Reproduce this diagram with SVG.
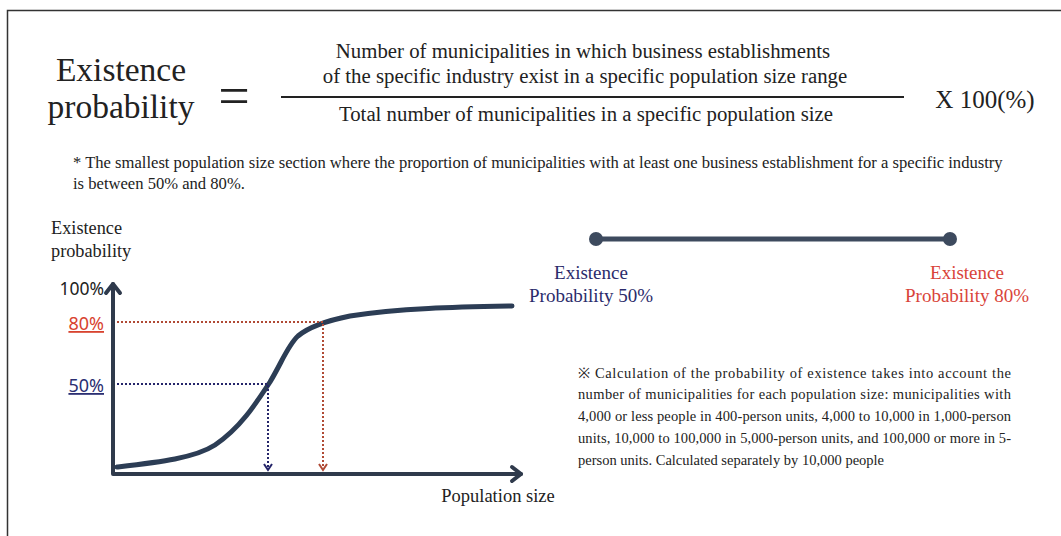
<svg xmlns="http://www.w3.org/2000/svg" width="1061" height="536" viewBox="0 0 1061 536">
  <style>
    .serif { font-family: "Liberation Serif", "Times New Roman", serif; fill: #222; }
    .sans { font-family: "Noto Sans", "Open Sans", sans-serif; }
    .axis { fill: none; stroke: #2f3a4c; stroke-width: 4; stroke-linecap: round; stroke-linejoin: round; }
    .dotRed { fill: none; stroke: #b04a35; stroke-width: 2; stroke-dasharray: 2 2; }
    .dotBlue { fill: none; stroke: #25256a; stroke-width: 2; stroke-dasharray: 2 2; }
    .headRed { fill: none; stroke: #b04a35; stroke-width: 2; }
    .headBlue { fill: none; stroke: #25256a; stroke-width: 2; }
  </style>

  <rect width="1061" height="536" fill="#ffffff"/>
  <!-- outer frame (right and bottom edges run off the canvas) -->
  <rect x="7.5" y="10.5" width="1100" height="600" fill="none" stroke="#333" stroke-width="1.5"/>

  <!-- formula -->
  <g id="formula">
    <text class="serif" x="121" y="81" font-size="33.5" text-anchor="middle">Existence</text>
    <text class="serif" x="121" y="118" font-size="33.5" text-anchor="middle">probability</text>
    <text class="serif" x="234" y="115" font-size="56" text-anchor="middle">=</text>
    <text class="serif" x="583" y="58" font-size="20.8" text-anchor="middle">Number of municipalities in which business establishments</text>
    <text class="serif" x="585" y="83" font-size="20.8" text-anchor="middle">of the specific industry exist in a specific population size range</text>
    <line x1="281" y1="97" x2="904" y2="97" stroke="#222" stroke-width="2"/>
    <text class="serif" x="586" y="121" font-size="20.8" text-anchor="middle">Total number of municipalities in a specific population size</text>
    <text class="serif" x="985" y="108" font-size="25" text-anchor="middle">X 100(%)</text>
  </g>

  <!-- footnote -->
  <g id="footnote">
    <text class="serif" x="73" y="168" font-size="16.6">* The smallest population size section where the proportion of municipalities with at least one business establishment for a specific industry</text>
    <text class="serif" x="73" y="189" font-size="16.6">is between 50% and 80%.</text>
  </g>

  <!-- chart -->
  <g id="chart">
    <text class="serif" x="51" y="234" font-size="18.3">Existence</text>
    <text class="serif" x="51" y="257" font-size="18.3">probability</text>
    <text class="sans" x="104" y="295" font-size="17.5" fill="#222" text-anchor="end">100%</text>
    <text class="sans" x="104" y="330" font-size="18" fill="#d8432f" text-anchor="end" text-decoration="underline">80%</text>
    <text class="sans" x="104" y="392" font-size="18" fill="#2b2f72" text-anchor="end" text-decoration="underline">50%</text>

    <!-- axes -->
    <path class="axis" d="M113,284 L113,474 L521,474"/>
    <path class="axis" d="M106,293 L113,284 L120,293"/>
    <path class="axis" d="M512,467 L521,474 L512,481"/>

    <!-- S-curve -->
    <path d="M117,467 C160,462 195,458 215,445 C240,428 255,405 270,382 C282,362 288,345 298,336 C310,326 330,320 350,316 C400,308 460,307 512,306"
          fill="none" stroke="#2c3d55" stroke-width="5" stroke-linecap="round"/>

    <text class="serif" x="498" y="502" font-size="18.5" text-anchor="middle">Population size</text>
  </g>

  <!-- guide lines from the percentage levels down to the axis -->
  <g id="connectors">
    <path class="dotRed" d="M117,322 L323,322 L323,468"/>
    <path class="headRed" d="M319,464 L323,470 L327,464"/>
    <path class="dotBlue" d="M117,384 L268,384 L268,468"/>
    <path class="headBlue" d="M264,464 L268,470 L272,464"/>
  </g>

  <!-- range bar -->
  <g id="range">
    <line x1="596" y1="239" x2="950" y2="239" stroke="#3d4a5e" stroke-width="5"/>
    <circle cx="596" cy="239" r="7" fill="#3d4a5e"/>
    <circle cx="950" cy="239" r="7" fill="#3d4a5e"/>
  </g>

  <g id="label-50">
    <text class="serif" x="591" y="279" font-size="19" text-anchor="middle" style="fill:#2b2b6b">Existence</text>
    <text class="serif" x="591" y="302" font-size="19" text-anchor="middle" style="fill:#2b2b6b">Probability 50%</text>
  </g>
  <g id="label-80">
    <text class="serif" x="967" y="279" font-size="19" text-anchor="middle" style="fill:#d9443a">Existence</text>
    <text class="serif" x="967" y="302" font-size="19" text-anchor="middle" style="fill:#d9443a">Probability 80%</text>
  </g>

  <!-- calculation note (justified lines) -->
  <g id="note">
    <text class="serif" x="578" y="378" font-size="14.5" textLength="433" lengthAdjust="spacing">※ Calculation of the probability of existence takes into account the</text>
    <text class="serif" x="578" y="399" font-size="14.5" textLength="433" lengthAdjust="spacing">number of municipalities for each population size: municipalities with</text>
    <text class="serif" x="578" y="421" font-size="14.5" textLength="433" lengthAdjust="spacing">4,000 or less people in 400-person units, 4,000 to 10,000 in 1,000-person</text>
    <text class="serif" x="578" y="443" font-size="14.5" textLength="433" lengthAdjust="spacing">units, 10,000 to 100,000 in 5,000-person units, and 100,000 or more in 5-</text>
    <text class="serif" x="578" y="465" font-size="14.5">person units. Calculated separately by 10,000 people</text>
  </g>
</svg>
